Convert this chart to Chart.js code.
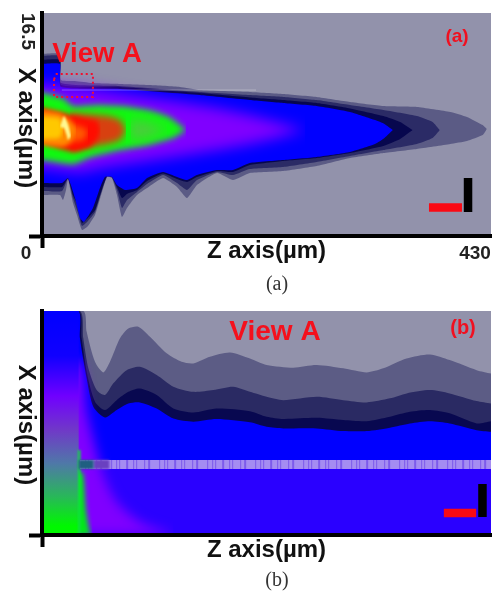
<!DOCTYPE html>
<html><head><meta charset="utf-8">
<style>
html,body{margin:0;padding:0;background:#fff;width:498px;height:591px;overflow:hidden}
canvas{position:absolute;left:0}
.cap{position:absolute;font:20px "Liberation Serif",serif;color:#333;width:60px;text-align:center;left:247px}
</style>
<script src="https://cdn.jsdelivr.net/npm/chart.js@4"></script>
</head><body>
<canvas id="ca" width="498" height="295" style="top:0"></canvas>
<canvas id="cb" width="498" height="296" style="top:295px"></canvas>
<div class="cap" style="top:272px">(a)</div>
<div class="cap" style="top:568px">(b)</div>
<script>
// ---------- Panel (a): Z 0-430 um, X 0-16.5 um ----------
const aZTicks=[0,430], aXTicks=[0,16.5];
const aL1TopZ=[0,17.2,18.2,31.6,47.9,74.7,103.4,132,151,199,231,263,295,327,359,391,407,422,426];
const aL1TopX=[13.47,13.47,11.54,11.47,11.32,11.25,11.17,11.03,10.8,10.66,10.51,10.29,9.92,9.62,9.55,9.18,8.81,8.21,7.92];
const aL1BotZ=[0,17.2,20.1,23,24.9,29.7,33.5,38.3,44,50.8,57.5,62.3,67,71.8,76.6,81.4,91,100.6,115.9,129.3,138.9,148.4,167.6,182.9,199,231,263,295,327,359,391,407,422,426];
const aL1BotX=[3.03,3.03,2.66,3.4,4.22,2.44,1.55,0.44,0.74,1.55,3.26,4.37,4.29,3.03,1.41,2.07,3.03,3.55,4.29,3.63,2.81,3.77,4.66,4.14,4.66,4.81,5.18,5.77,6.14,6.44,6.81,7.03,7.47,7.92];
const aL2TopZ=[0,17.2,18.2,74.7,151,199,231,263,295,327,359,374,381];
const aL2TopX=[13.32,13.32,11.32,11.1,10.66,10.43,10.29,10.06,9.69,9.32,8.88,8.44,7.84];
const aL2BotZ=[0,19.2,24.9,29.7,34.5,38.3,44,50.8,57.5,62.3,67,71.8,76.6,81.4,91,100.6,115.9,129.3,138.9,148.4,167.6,182.9,199,231,263,295,327,359,374,381];
const aL2BotX=[3.33,3.33,4.26,2.81,1.7,0.74,1.11,1.78,3.4,4.4,4.33,3.4,2.07,2.66,3.26,3.85,4.51,3.92,3.4,4.14,4.74,4.51,4.96,5.11,5.48,5.92,6.36,6.81,7.25,7.84];
const aL3TopZ=[0,17.2,18.2,74.7,151,199,231,263,295,327,343,355];
const aL3TopX=[13.02,13.02,11.17,11.03,10.58,10.25,10.06,9.84,9.44,8.88,8.44,7.84];
const aL3BotZ=[0,19.2,24.9,29.7,34.5,38.3,44,50.8,57.5,62.3,67,71.8,76.6,81.4,91,100.6,115.9,129.3,138.9,148.4,167.6,182.9,199,231,263,295,327,343,355];
const aL3BotX=[3.63,3.63,4.26,3.03,2.22,0.96,1.33,1.92,3.48,4.44,4.37,3.63,2.81,3.11,3.4,4.07,4.63,4.22,4.0,4.37,4.81,4.74,5.25,5.55,5.77,6.14,6.66,7.18,7.84];
const aBlueTopZ=[0,17.2,18.2,74.7,151,199,231,263,295,319,328,336];
const aBlueTopX=[12.73,12.73,11.03,10.88,10.43,10.06,9.84,9.62,9.18,8.58,8.29,7.84];
const aBlueBotZ=[0,19.2,24.9,31.6,36.4,40.2,48.8,55.5,60.3,67,71.8,79.5,91,100.6,115.9,129.3,138.9,148.4,167.6,182.9,199,231,263,295,319,328,336];
const aBlueBotX=[3.92,3.92,4.29,2.81,1.33,1.04,2.07,3.55,4.37,4.37,3.77,3.4,3.55,4.29,4.74,4.37,4.14,4.51,4.88,4.88,5.4,5.62,5.85,6.22,6.81,7.25,7.84];
const aPurpleZ=[-15,0,36.4,55.5,119.7,167.6,199,228,252];
const aPurpleTop=[11.25,11.25,11.0,10.8,10.06,9.47,8.95,8.36,7.84];
const aPurpleBot=[5.03,5.03,4.7,5.03,5.77,6.36,6.81,7.33,7.84];
const aGreenTopZ=[-15,0,20.1,29.7,52.7,77.6,103.4,122,138];
const aGreenTopX=[10.6,10.6,10.2,9.62,9.7,9.62,9.3,8.8,7.84];
const aGreenBotZ=[-15,0,29.7,46,72,103.4,126,138];
const aGreenBotX=[5.6,5.6,5.3,5.8,6.3,6.75,7.25,7.84];
const aHazeZ=[85,103.4,119.7], aHazeTop=[8.6,8.3,7.84], aHazeBot=[7.1,7.4,7.84];
const aDullZ=[26.8,62.3,74.7,80.4];
const aDullTop=[9.1,8.88,8.58,7.84];
const aDullBot=[6.36,6.81,7.1,7.84];
const aRedTopZ=[-15,0,20.1,39.3,52.7,56];
const aRedTopX=[9.47,9.47,9.1,8.73,8.51,7.84];
const aRedBotZ=[-15,0,29.7,46,53.6,56];
const aRedBotX=[6.88,6.88,6.22,6.59,7.25,7.84];
const aEmberZ=[17.2,40.2,44], aEmberTop=[8.58,7.99,7.77], aEmberBot=[6.88,7.1,7.77];
const aOrangeZ=[-15,0,17.2,26.8,32.6];
const aOrangeBotZ=[-15,0,19.2,26.8,32.6];
const aOrangeTop=[9.32,9.32,9.1,8.58,7.84];
const aOrangeBot=[6.73,6.73,6.59,6.88,7.84];
const aAmberZ=[-15,0,17,20], aAmberTop=[8.8,8.8,8.7,8.1], aAmberBot=[7.18,7.18,7.25,7.8];
const aSpikeTopZ=[17.2,21,24.9,27.8], aSpikeTopX=[8.07,8.88,8.29,7.4];
const aSpikeBotZ=[17.2,21,23.9,24.9,27.8], aSpikeBotX=[8.07,7.99,7.4,7.1,7.4];
const aBoxZ=[11.5,14,48.8,48.8,11.5,11.5];
const aBoxX=[11.6,11.99,11.99,10.29,10.29,11.6];
const aFaintZ=[19,205], aFaintX=[10.8,10.8];
const aRedBarZ=[370.6,402.2], aRedBarX=[2.11,2.11];
const aBlackBarZ=[408,408], aBlackBarX=[4.29,1.78];

// ---------- Panel (b): View A, normalised 0-100 on both axes ----------
const bL1Z=[0,9.2,9.95,11.8,13.66,15.14,17.37,19.23,21.45,24.05,27.76,31.1,33.7,37.4,41.87,46.32,50.03,55.97,61.17,67.1,72.3,76,81.2,86.4,90.8,96.8,100];
const bL1X=[100,100,90.7,77.3,72.6,77.3,87.8,92.2,93,88.5,81.1,77.3,76.6,79.6,81.5,78.8,75.9,74.7,75.9,74.4,72.6,74.4,78.8,80.6,78.1,73.6,72.1];
const bL2Z=[0,8.46,9.2,10.32,12.17,14.03,15.89,18.86,21.82,25.54,29.25,33.7,38.16,42.6,46.32,50.03,53.74,61.17,67.1,72.3,77.5,81.2,86.4,90.8,96.8,100];
const bL2X=[100,100,87.8,74.4,64.7,62.5,67.7,73.6,75.1,71.4,66.2,63.9,64.7,66.2,63.9,61.7,60.2,61.7,60.2,59.2,61,63.2,64.7,63.2,59.8,58.7];
const bL3Z=[0,8.24,8.83,10.1,11.8,14.03,16.63,19.23,21.82,25.54,29.25,33.7,38.9,46.32,50.03,53.74,61.17,67.1,72.3,77.5,81.95,86.4,90.8,96.8,100];
const bL3X=[100,100,87.8,71.4,59.5,55.8,60.2,63.9,65.4,62.5,56.5,54.7,56.5,55.3,52.8,51.8,52.3,51.3,50.8,52.8,55,55.8,54.3,49.8,50.8];
const bBlueZ=[0,8.09,8.46,9.95,11.43,14.03,16.63,19.23,21.82,25.54,29.25,33.7,38.9,46.32,50.03,53.74,61.17,67.1,72.3,77.5,81.95,86.4,90.8,96.8,100];
const bBlueX=[100,100,87.8,69.9,57.3,52.5,55.8,58.7,59.2,56.5,52,50.6,51.8,50.3,48.3,47.6,47.6,46.4,46.4,47.9,49.8,50.8,49.8,46.8,46.1];
const bVioletZ=[0,100], bVioletX=[31,31];
const bPurpleZ=[0,8.09,9.95,11.8,13.66,16.63,21.82,29.25];
const bPurpleX=[77.3,77.3,55,40.1,26.7,14.8,5.9,0.5];
const bGreenZ=[0,8.09,9.13,9.8,10.7,11.2];
const bGreenX=[28,28,27.7,11,1,0];
const bColumnZ=[0,8.2], bColumnX=[100,100];
const bRimZ=[8.3,8.3], bRimX=[38,0];
const bStripZ=[8.5,100], bStripX=[31.5,31.5];
const bStripDarkZ=[8.2,11.5], bStripMidZ=[11.5,15];
const bRedBarZ=[89.5,96.7], bRedBarX=[9.8,9.8];
const bBlackBarZ=[98.1,98.1], bBlackBarX=[22.8,8.0];

// ---------- helpers ----------
const pts=(zs,xs)=>zs.map((z,i)=>({x:z,y:xs[i]}));
const GREY='#9292ab';
function band(list,zt,xt,zb,xb,color,blur,tension){
  const t=tension===undefined?0.15:tension;
  list.push({data:pts(zt,xt),fill:'+1',backgroundColor:color,blurPx:blur,tension:t});
  list.push({data:pts(zb,xb),fill:false,blurPx:blur,tension:t});
}
function area(list,z,x,color,blur){
  list.push({data:pts(z,x),fill:'start',backgroundColor:color,blurPx:blur,tension:0.25});
}
function stroke(list,z,x,color,width,dash,blur){
  list.push({data:pts(z,x),fill:false,borderColor:color,borderWidth:width,borderDash:dash||[],borderCapStyle:'butt',blurPx:blur===undefined?0.4:blur,tension:0});
}
const filterFor=v=>v?`blur(${v}px)`:'none';
function makeChart(id,datasets,cfg){
  const texts=cfg.texts;
  const layers={id:'layers',
    beforeDatasetsDraw(ch){
      const c=ch.ctx,a=ch.chartArea;
      c.save();c.fillStyle=GREY;c.fillRect(a.left,a.top,a.right-a.left,a.bottom-a.top);c.restore();
      const n=ch.data.datasets.length;
      c.filter=filterFor(ch.data.datasets[n-1].blurPx);
    },
    afterDatasetDraw(ch,args){
      const next=ch.data.datasets[args.index-1];
      ch.ctx.filter=next?filterFor(next.blurPx):'none';
    },
    afterDatasetsDraw(ch){ch.ctx.filter='none';},
    afterDraw(ch){
      const c=ch.ctx;
      texts.forEach(t=>{
        c.save();c.translate(t.x,t.y);if(t.rot)c.rotate(t.rot);
        c.font=t.font;c.fillStyle=t.color;c.textAlign='center';c.textBaseline='middle';
        c.fillText(t.text,0,0);c.restore();
      });
    }};
  const tickColor=c=>c.tick&&c.tick.value===0?'#000':'rgba(0,0,0,0)';
  return new Chart(document.getElementById(id),{
    type:'line',
    data:{datasets},
    options:{
      responsive:false,animation:false,
      layout:{padding:cfg.padding},
      elements:{point:{radius:0},line:{borderWidth:0}},
      plugins:{legend:{display:false},tooltip:{enabled:false}},
      scales:{
        x:{type:'linear',min:0,max:cfg.xMax,
          afterBuildTicks:s=>{s.ticks=cfg.xTicks.map(v=>({value:v}));},
          afterFit:s=>{s.height=cfg.xHeight;s.paddingLeft=0;s.paddingRight=0;},
          border:{display:true,color:'#000',width:4,z:1},
          grid:{drawOnChartArea:false,drawTicks:true,tickLength:12,tickWidth:4,tickColor,z:1},
          ticks:{display:cfg.showLabels,autoSkip:false,maxRotation:0,minRotation:0,labelOffset:-16,padding:-6,z:1,
            color:'#222',font:{family:'"Liberation Sans"',weight:'bold',size:19},callback:v=>String(v)},
          title:{display:true,text:'Z axis(µm)',color:'#111',padding:0,
            font:{family:'"Liberation Sans"',weight:'bold',size:24}}
        },
        y:{min:0,max:cfg.yMax,
          afterBuildTicks:s=>{s.ticks=cfg.yTicks.map(v=>({value:v}));},
          afterFit:s=>{s.width=42;s.paddingTop=0;s.paddingBottom=0;},
          border:{display:true,color:'#000',width:4,z:1},
          grid:{drawOnChartArea:false,drawTicks:true,tickLength:13,tickWidth:4,tickColor,z:1},
          ticks:{display:cfg.showLabels,autoSkip:false,minRotation:-90,maxRotation:-90,labelOffset:37,padding:2,z:1,
            color:'#222',font:{family:'"Liberation Sans"',weight:'bold',size:19},
            callback:v=>v===0?'':String(v)}
        }
      }
    },
    plugins:[layers]
  });
}

// ---------- Panel (a) layers, front to back ----------
const dsA=[];
stroke(dsA,aRedBarZ,aRedBarX,'#fa0a14',8.5);
stroke(dsA,aBlackBarZ,aBlackBarX,'#000',8.5);
stroke(dsA,aBoxZ,aBoxX,'#f01030',2,[2,3]);
stroke(dsA,aFaintZ,aFaintX,'rgba(255,255,255,0.3)',1);
band(dsA,aSpikeTopZ,aSpikeTopX,aSpikeBotZ,aSpikeBotX,'#fff890',1.2);
band(dsA,aAmberZ,aAmberTop,aAmberZ,aAmberBot,'#ffc800',2);
band(dsA,aOrangeZ,aOrangeTop,aOrangeBotZ,aOrangeBot,'#ff8a00',2.5);
band(dsA,aEmberZ,aEmberTop,aEmberZ,aEmberBot,'#ff5a00',3);
band(dsA,aRedTopZ,aRedTopX,aRedBotZ,aRedBotX,'#ff0c00',2.5);
band(dsA,aDullZ,aDullTop,aDullZ,aDullBot,'#d84010',3.5);
band(dsA,aHazeZ,aHazeTop,aHazeZ,aHazeBot,'#50c840',6);
band(dsA,aGreenTopZ,aGreenTopX,aGreenBotZ,aGreenBotX,'#10f810',3);
band(dsA,aPurpleZ,aPurpleTop,aPurpleZ,aPurpleBot,'#8000ff',7);
band(dsA,aBlueTopZ,aBlueTopX,aBlueBotZ,aBlueBotX,'#0000ff',0.6);
band(dsA,aL3TopZ,aL3TopX,aL3BotZ,aL3BotX,'#07074e',0.6);
band(dsA,aL2TopZ,aL2TopX,aL2BotZ,aL2BotX,'#2b2b66',0.6);
band(dsA,aL1TopZ,aL1TopX,aL1BotZ,aL1BotX,'#5b5b85',0.6);

makeChart('ca',dsA,{
  xMax:430,yMax:16.5,xTicks:aZTicks,yTicks:aXTicks,showLabels:true,xHeight:30,
  padding:{left:0,right:7,top:13,bottom:29},
  texts:[
    {text:'X axis(µm)',x:26,y:128,rot:Math.PI/2,font:'bold 24px "Liberation Sans"',color:'#111'},
    {text:'View A',x:97,y:54,font:'bold 27.5px "Liberation Sans"',color:'#f4101c'},
    {text:'(a)',x:457,y:37,font:'bold 19px "Liberation Sans"',color:'#f01020'}
  ]
});

// ---------- Panel (b) layers, front to back ----------
const dsB=[];
stroke(dsB,bRedBarZ,bRedBarX,'#fa0a14',8.5);
stroke(dsB,bBlackBarZ,bBlackBarX,'#000',8.5);
stroke(dsB,bStripDarkZ,bStripX,'#1f5f80',9,[],0.8);
stroke(dsB,bStripMidZ,bStripX,'#6a40c0',9,[],0.8);
stroke(dsB,bStripZ,bStripX,'rgb(165,140,242)',9,[5,1,2,1,7,1,3,2,9,1,4,1,2,1,6,2],0.7);
stroke(dsB,bStripZ,bStripX,'rgb(125,90,235)',9,[],0.7);
stroke(dsB,bRimZ,bRimX,'#10e040',2.5,[],1);
dsB.push({data:pts(bColumnZ,bColumnX),fill:'start',blurPx:0,
  backgroundColor:c=>{
    const a=c.chart.chartArea;if(!a)return '#0000ff';
    const g=c.chart.ctx.createLinearGradient(0,a.top,0,a.bottom);
    g.addColorStop(0,'#0000ff');g.addColorStop(0.2,'#1000ff');g.addColorStop(0.38,'#7000ff');
    g.addColorStop(0.53,'#7038c8');g.addColorStop(0.68,'#4f78a8');g.addColorStop(0.83,'#28b858');
    g.addColorStop(0.96,'#00f800');g.addColorStop(1,'#00f800');
    return g;
  }});
area(dsB,bGreenZ,bGreenX,'#00e818',2.5);
area(dsB,bPurpleZ,bPurpleX,'#8000ff',6);
area(dsB,bVioletZ,bVioletX,'#2a00ff',0);
area(dsB,bBlueZ,bBlueX,'#0000ff',0.6);
area(dsB,bL3Z,bL3X,'#080850',0.6);
area(dsB,bL2Z,bL2X,'#2a2a63',0.6);
area(dsB,bL1Z,bL1X,'#5c5c85',0.6);

makeChart('cb',dsB,{
  xMax:100,yMax:100,xTicks:[0,100],yTicks:[0,100],showLabels:false,xHeight:30,
  padding:{left:0,right:7,top:16,bottom:26},
  texts:[
    {text:'X axis(µm)',x:26,y:130,rot:Math.PI/2,font:'bold 24px "Liberation Sans"',color:'#111'},
    {text:'View A',x:275,y:37,font:'bold 28px "Liberation Sans"',color:'#f4101c'},
    {text:'(b)',x:463,y:33,font:'bold 20px "Liberation Sans"',color:'#f01020'}
  ]
});
</script>
</body></html>
